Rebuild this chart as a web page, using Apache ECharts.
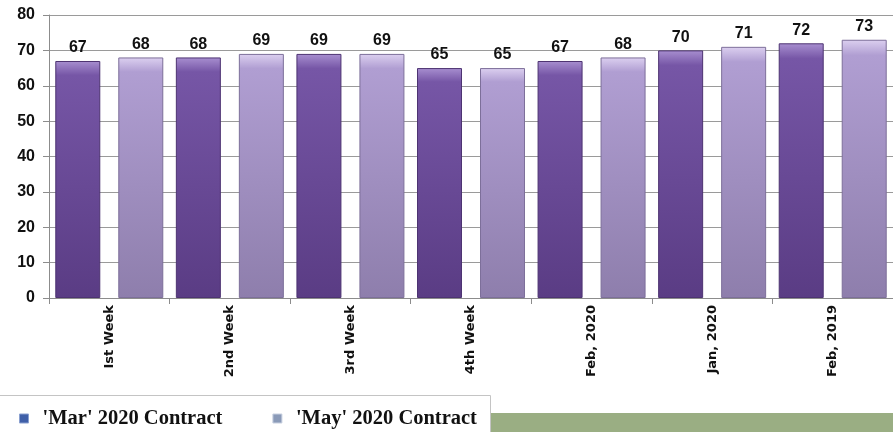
<!DOCTYPE html>
<html><head><meta charset="utf-8">
<script src="https://cdn.jsdelivr.net/npm/echarts@6/dist/echarts.min.js"></script>
<style>html,body{margin:0;padding:0;background:#fff}#c{width:893px;height:432px}</style>
</head><body><div id="c"></div>
<script>
var categories = ["Ist Week", "2nd Week", "3rd Week", "4th Week", "Feb, 2020", "Jan, 2020", "Feb, 2019"];
var marValues = [67, 68, 69, 65, 67, 70, 72];
var mayValues = [68, 69, 69, 65, 68, 71, 73];
var yTicks = [0, 10, 20, 30, 40, 50, 60, 70, 80];
var seriesNames = ["'Mar' 2020 Contract", "'May' 2020 Contract"];

var chart = echarts.init(document.getElementById('c'));
function grad(top, mid, bot) {
  return new echarts.graphic.LinearGradient(0, 0, 0, 1, [
    {offset: 0, color: top}, {offset: 0.06, color: mid}, {offset: 1, color: bot}
  ]);
}
var lbl = {show: true, position: 'top', distance: 5, color: '#111', fontFamily: 'Liberation Sans', fontWeight: 'bold', fontSize: 16};
chart.setOption({
  animation: false,
  grid: {left: 49, top: 15, width: 849, height: 283, containLabel: false},
  graphic: [
    {type: 'rect', left: 490, top: 413, shape: {width: 403, height: 19}, style: {fill: '#9aae83'}, z: -1},
    {type: 'rect', left: -1, top: 395, shape: {width: 491, height: 40}, style: {fill: '#fff', stroke: '#c4c4c4', lineWidth: 1}, z: -1}
  ],
  legend: {
    left: 14, top: 403, itemWidth: 9, itemHeight: 9, itemGap: 50, icon: 'rect',
    textStyle: {fontFamily: 'Liberation Serif', fontWeight: 'bold', fontSize: 20.5, color: '#111', padding: [0, 0, 0, 9]},
    data: [
      {name: seriesNames[0], itemStyle: {color: '#3f5fa8', borderColor: '#8aa0d0', borderWidth: 1}},
      {name: seriesNames[1], itemStyle: {color: '#8a9ab8', borderColor: '#c8d0e0', borderWidth: 1}}
    ]
  },
  xAxis: {
    type: 'category', data: categories,
    axisLine: {lineStyle: {color: '#8c8c8c'}},
    axisTick: {show: true, length: 6, lineStyle: {color: '#8c8c8c'}},
    axisLabel: {rotate: 90, margin: 7, color: '#111', fontFamily: 'DejaVu Sans', fontWeight: 'bold', fontSize: 13}
  },
  yAxis: {
    type: 'value', min: 0, max: 80, interval: 10,
    axisLine: {show: true, lineStyle: {color: '#8c8c8c'}},
    axisTick: {show: true, inside: false, length: 6, lineStyle: {color: '#8c8c8c'}},
    splitLine: {lineStyle: {color: '#9a9a9a'}},
    axisLabel: {margin: 14, color: '#111', fontFamily: 'Liberation Sans', fontWeight: 'bold', fontSize: 16,
      formatter: function (v) { return yTicks.indexOf(v) >= 0 ? String(v) : ''; }}
  },
  series: [
    {name: seriesNames[0], type: 'bar', data: marValues, barWidth: 45, barGap: '40%',
      itemStyle: {color: grad('#a88fd0', '#7656a6', '#5a3c84'), borderColor: '#4d3372', borderWidth: 1},
      label: lbl},
    {name: seriesNames[1], type: 'bar', data: mayValues, barWidth: 45,
      itemStyle: {color: grad('#dcd0f0', '#b09ed2', '#8e7eac'), borderColor: '#7d6f9a', borderWidth: 1},
      label: lbl}
  ]
});
</script></body></html>
